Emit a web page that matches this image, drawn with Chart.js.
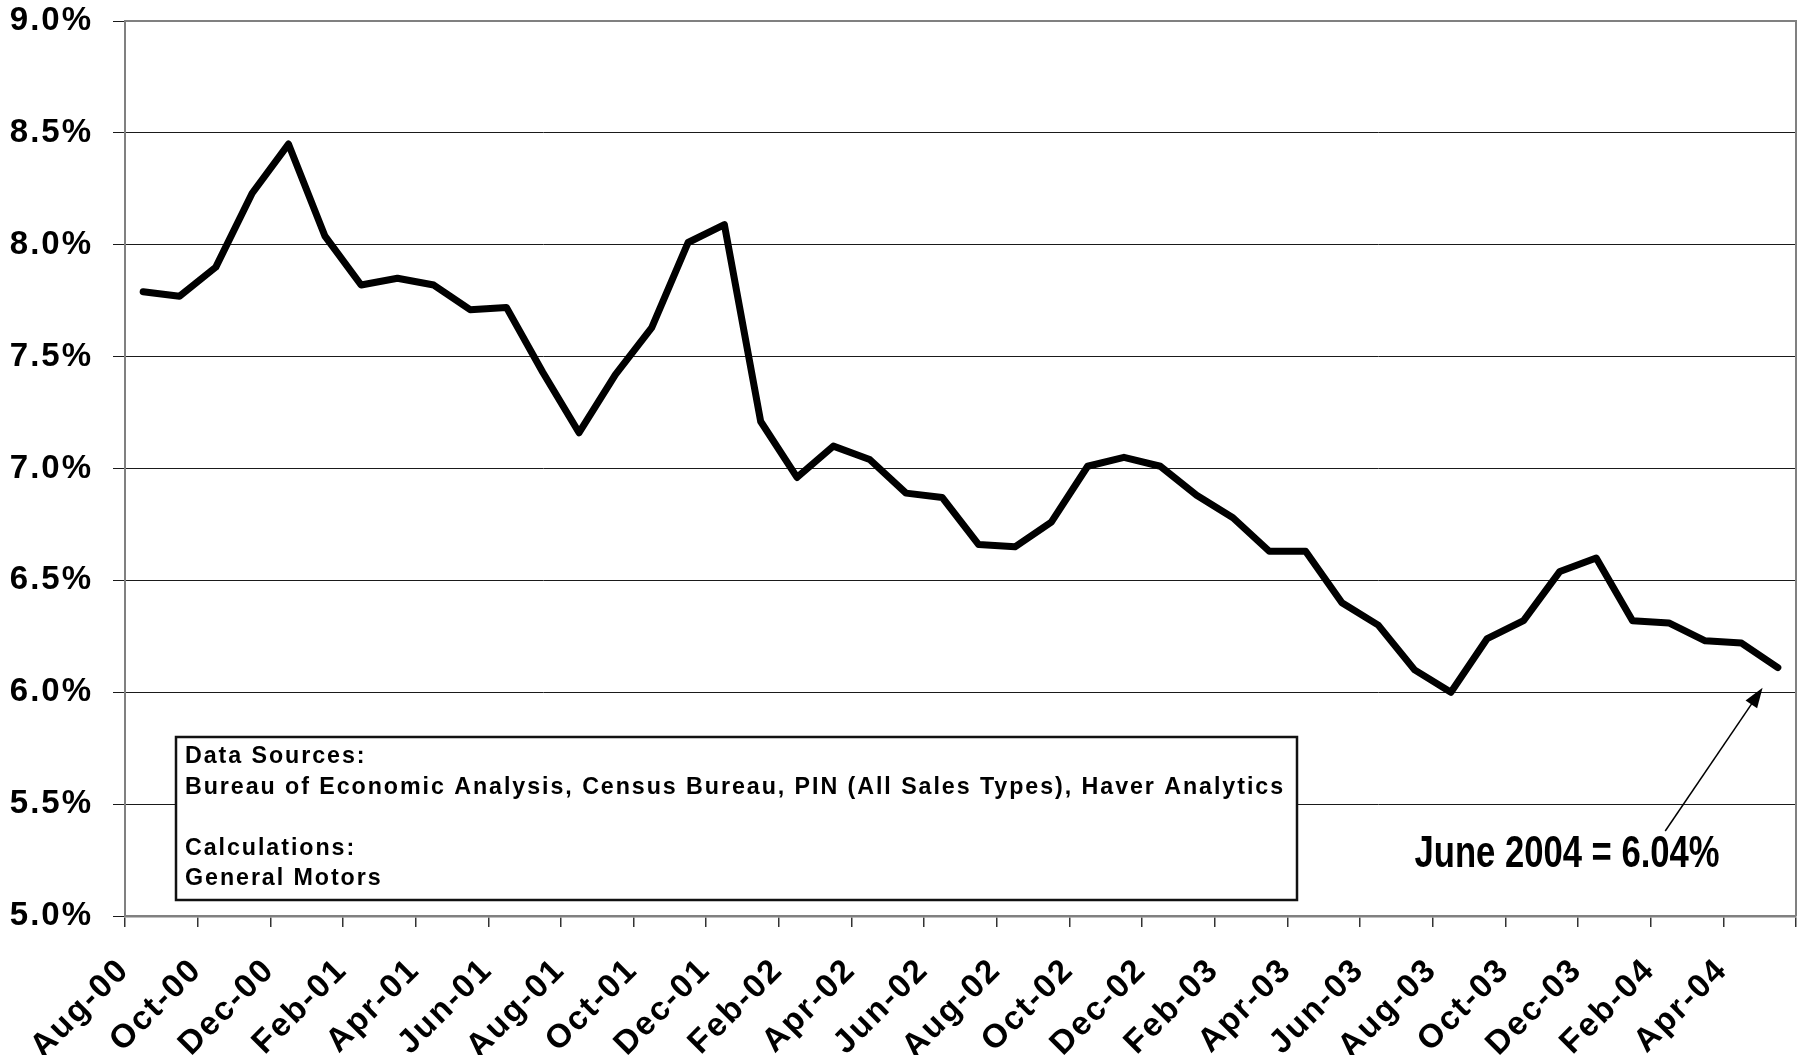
<!DOCTYPE html>
<html>
<head>
<meta charset="utf-8">
<script src="https://cdn.jsdelivr.net/npm/chart.js@4.4.0/dist/chart.umd.min.js"></script>
<style>
    html, body { margin: 0; padding: 0; background: #ffffff; }
    #wrap { width: 1802px; height: 1055px; }
</style>
</head>
<body>
<div id="wrap"><canvas id="chart" width="1802" height="1055"></canvas></div>
<script>
const months = [
    "Aug-00", "Sep-00", "Oct-00", "Nov-00", "Dec-00",
    "Jan-01", "Feb-01", "Mar-01", "Apr-01", "May-01", "Jun-01", "Jul-01", "Aug-01", "Sep-01", "Oct-01", "Nov-01", "Dec-01",
    "Jan-02", "Feb-02", "Mar-02", "Apr-02", "May-02", "Jun-02", "Jul-02", "Aug-02", "Sep-02", "Oct-02", "Nov-02", "Dec-02",
    "Jan-03", "Feb-03", "Mar-03", "Apr-03", "May-03", "Jun-03", "Jul-03", "Aug-03", "Sep-03", "Oct-03", "Nov-03", "Dec-03",
    "Jan-04", "Feb-04", "Mar-04", "Apr-04", "May-04"
];
const rates = [
    7.79, 7.77, 7.90, 8.23, 8.45, 8.04, 7.82, 7.85, 7.82, 7.71,
    7.72, 7.43, 7.16, 7.42, 7.63, 8.01, 8.09, 7.21, 6.96, 7.10,
    7.04, 6.89, 6.87, 6.66, 6.65, 6.76, 7.01, 7.05, 7.01, 6.88,
    6.78, 6.63, 6.63, 6.40, 6.30, 6.10, 6.00, 6.24, 6.32, 6.54,
    6.60, 6.32, 6.31, 6.23, 6.22, 6.11
];
// only every second month gets a label
const tickLabels = months.map((m, i) => (i % 2 === 0 ? m : ""));
const yTicks = [5.0, 5.5, 6.0, 6.5, 7.0, 7.5, 8.0, 8.5, 9.0];
const sourceLines = [
    "Data Sources:",
    "Bureau of Economic Analysis, Census Bureau, PIN (All Sales Types), Haver Analytics",
    "",
    "Calculations:",
    "General Motors"
];
const calloutText = "June 2004 = 6.04%";

const FONT = "'Liberation Sans', Arial, Helvetica, sans-serif";

// letter spacing is part of the canvas state, so set it before layout and draw
const spacingPlugin = {
    id: "spacing",
    beforeLayout(chart) { chart.ctx.letterSpacing = "2px"; },
    beforeDraw(chart) { chart.ctx.letterSpacing = "2px"; }
};

const notesPlugin = {
    id: "notes",
    afterDraw(chart) {
        const ctx = chart.ctx;
        const ca = chart.chartArea;
        const xs = chart.scales.x;
        const ys = chart.scales.y;

        // frame round the plot area
        ctx.save();
        ctx.letterSpacing = "0px";
        ctx.strokeStyle = "#808080";
        ctx.lineWidth = 2;
        ctx.beginPath();
        ctx.moveTo(ca.left, ca.top);
        ctx.lineTo(ca.right, ca.top);
        ctx.lineTo(ca.right, ca.bottom);
        ctx.stroke();

        // sources box
        const bx = ca.left + 51, by = ca.top + 716, bw = 1121, bh = 163;
        ctx.fillStyle = "#ffffff";
        ctx.fillRect(bx, by, bw, bh);
        ctx.strokeStyle = "#111111";
        ctx.lineWidth = 2.5;
        ctx.strokeRect(bx, by, bw, bh);

        ctx.fillStyle = "#000000";
        ctx.font = "bold 24px " + FONT;
        ctx.letterSpacing = "2px";
        ctx.textBaseline = "alphabetic";
        ctx.textAlign = "left";
        const longest = ctx.measureText(sourceLines[1]).width;
        const sx = 1100 / longest;
        sourceLines.forEach((line, i) => {
            ctx.save();
            ctx.translate(bx + 9, by + 26 + i * 30.5);
            ctx.scale(sx, 1);
            ctx.fillText(line, 0, 0);
            ctx.restore();
        });

        // callout text, condensed
        ctx.letterSpacing = "0px";
        ctx.font = "bold 44px " + FONT;
        const tw = ctx.measureText(calloutText).width;
        ctx.save();
        ctx.translate(xs.getPixelForValue(35.0), ys.getPixelForValue(5.22));
        ctx.scale(305 / tw, 1);
        ctx.fillText(calloutText, 0, 0);
        ctx.restore();

        // arrow to the last value
        const x0 = xs.getPixelForValue(41.9), y0 = ys.getPixelForValue(5.38);
        const x1 = xs.getPixelForValue(44.58), y1 = ys.getPixelForValue(6.02);
        const ang = Math.atan2(y1 - y0, x1 - x0);
        ctx.strokeStyle = "#000000";
        ctx.lineWidth = 1.5;
        ctx.beginPath();
        ctx.moveTo(x0, y0);
        ctx.lineTo(x1 - 14 * Math.cos(ang), y1 - 14 * Math.sin(ang));
        ctx.stroke();
        ctx.beginPath();
        ctx.moveTo(x1, y1);
        ctx.lineTo(x1 - 20 * Math.cos(ang) + 7 * Math.sin(ang), y1 - 20 * Math.sin(ang) - 7 * Math.cos(ang));
        ctx.lineTo(x1 - 20 * Math.cos(ang) - 7 * Math.sin(ang), y1 - 20 * Math.sin(ang) + 7 * Math.cos(ang));
        ctx.closePath();
        ctx.fill();
        ctx.restore();
    }
};

const tickFont = { family: FONT, size: 33, weight: "bold" };

new Chart(document.getElementById("chart").getContext("2d"), {
    type: "line",
    data: {
        labels: months,
        datasets: [{
            data: rates,
            borderColor: "#000000",
            borderWidth: 7,
            borderJoinStyle: "round",
            borderCapStyle: "round",
            pointRadius: 0,
            tension: 0,
            fill: false
        }]
    },
    options: {
        responsive: false,
        animation: false,
        devicePixelRatio: 1,
        layout: { padding: { top: 21, right: 6, left: 0, bottom: 0 } },
        plugins: {
            legend: { display: false },
            tooltip: { enabled: false }
        },
        scales: {
            x: {
                type: "category",
                offset: true,
                grid: {
                    offset: true,
                    drawOnChartArea: false,
                    drawTicks: true,
                    tickLength: 11,
                    lineWidth: 1.5,
                    color: (c) => (c.index === undefined || c.index % 2 === 0 ? "#333333" : "rgba(0,0,0,0)")
                },
                border: { display: true, color: "#808080", width: 2.5 },
                ticks: {
                    autoSkip: false,
                    maxRotation: 45,
                    minRotation: 45,
                    padding: 24,
                    labelOffset: -19,
                    color: "#000000",
                    font: tickFont,
                    callback: (v, i) => tickLabels[i]
                },
                afterFit: (s) => {
                    s.height = 139;
                    s.paddingLeft = 0;
                    s.paddingRight = 0;
                }
            },
            y: {
                min: 5,
                max: 9,
                afterBuildTicks: (s) => { s.ticks = yTicks.map((v) => ({ value: v })); },
                grid: {
                    color: "#1a1a1a",
                    lineWidth: 1,
                    drawTicks: true,
                    tickLength: 12
                },
                border: { display: true, color: "#808080", width: 2 },
                ticks: {
                    padding: 20,
                    color: "#000000",
                    font: tickFont,
                    callback: (v) => v.toFixed(1) + "%"
                },
                afterFit: (s) => {
                    s.width = 125;
                    s.paddingTop = 0;
                    s.paddingBottom = 0;
                }
            }
        }
    },
    plugins: [spacingPlugin, notesPlugin]
});
</script>
</body>
</html>
